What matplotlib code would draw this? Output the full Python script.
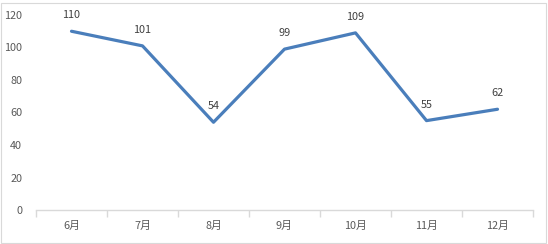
import numpy as np
import matplotlib
matplotlib.use("Agg")
import matplotlib.pyplot as plt
from matplotlib.patches import Rectangle

plt.rcParams['font.family'] = ['Noto Sans CJK SC', 'DejaVu Sans']

months = ['6月', '7月', '8月', '9月', '10月', '11月', '12月']
values = [110, 101, 54, 99, 109, 55, 62]
yticks = [0, 20, 40, 60, 80, 100, 120]

W, H = 548, 244
fig = plt.figure(figsize=(W / 100, H / 100), dpi=100)
ax = fig.add_axes([36 / W, (H - 210) / H, (533 - 36) / W, (210 - 15) / H])

x = np.arange(len(months))
ax.plot(x, values, color='#4A7EBB', lw=2.3, solid_capstyle='round', solid_joinstyle='round')
for xi, v in zip(x, values):
    ax.annotate(str(v), (xi, v), xytext=(0, 8), textcoords='offset points',
                ha='center', va='bottom', fontsize=7.8, color='#404040')

ax.set_xlim(-0.5, len(months) - 0.5)
ax.set_ylim(0, 120)
ax.set_yticks(yticks)
ax.set_xticks(x)
ax.set_xticklabels(months)
ax.set_xticks(np.arange(-0.5, len(months)), minor=True)
ax.tick_params(axis='x', which='major', length=0, pad=8, labelsize=7.8, labelcolor='#595959')
ax.tick_params(axis='x', which='minor', length=5, color='#D9D9D9', width=1)
ax.tick_params(axis='y', length=0, pad=10, labelsize=7.8, labelcolor='#595959')

for s in ['top', 'right', 'left']:
    ax.spines[s].set_visible(False)
ax.spines['bottom'].set_color('#D9D9D9')
ax.spines['bottom'].set_linewidth(1)

fig.patches.append(Rectangle((1 / W, 1 / H), (W - 3) / W, (H - 4) / H, transform=fig.transFigure,
                             fill=False, edgecolor='#D9D9D9', lw=0.8))

fig.savefig('out.png', dpi=100)
